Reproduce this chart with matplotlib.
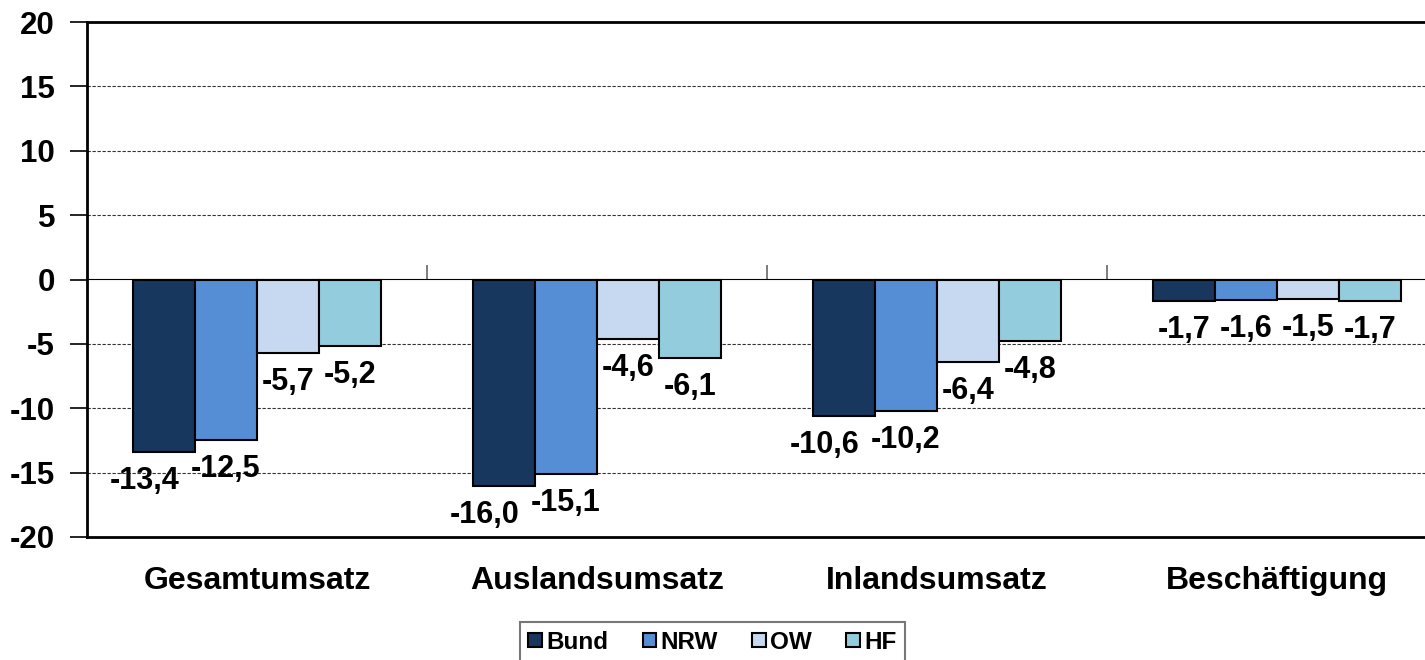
import matplotlib
matplotlib.use("Agg")
import matplotlib.pyplot as plt
import numpy as np

categories = ["Gesamtumsatz", "Auslandsumsatz", "Inlandsumsatz", "Beschäftigung"]
series = ["Bund", "NRW", "OW", "HF"]
bund = [-13.4, -16.0, -10.6, -1.7]
nrw = [-12.5, -15.1, -10.2, -1.6]
ow = [-5.7, -4.6, -6.4, -1.5]
hf = [-5.2, -6.1, -4.8, -1.7]
yticks = [20, 15, 10, 5, 0, -5, -10, -15, -20]

colors = ["#17375E", "#558ED5", "#C6D9F1", "#93CDDD"]
values = [bund, nrw, ow, hf]

plt.rcParams['font.family'] = ['Liberation Sans', 'DejaVu Sans']
plt.rcParams['font.weight'] = 'bold'

fig = plt.figure(figsize=(14.25, 6.6), dpi=100)
ax = fig.add_axes([87/1425, 1-537/660, 1360/1425, 515/660])

x = np.arange(len(categories))
w = 0.182
offsets = [-1.5*w, -0.5*w, 0.5*w, 1.5*w]

for i, (name, vals, c) in enumerate(zip(series, values, colors)):
    bars = ax.bar(x + offsets[i], vals, width=w, color=c, edgecolor='black',
                  linewidth=1.5, label=name, zorder=3)
    for j, (b, v) in enumerate(zip(bars, vals)):
        dx = -20 if (i == 0 and v < -5) else 0
        ax.annotate(f"{v:.1f}".replace('.', ','),
                    (b.get_x() + b.get_width()/2, v),
                    xytext=(dx, -29), textcoords='offset pixels',
                    ha='center', va='center', fontsize=22, fontweight='bold',
                    zorder=4)

ax.set_xlim(-0.5, len(categories) - 0.5)
ax.set_ylim(-20, 20)
ax.set_yticks(yticks)
ax.set_yticklabels([str(t) for t in yticks])
ax.tick_params(axis='y', direction='out', length=12, width=1.2, pad=11,
               labelsize=22.5, color='black')
ax.set_xticks(x)
ax.set_xticklabels(categories)
ax.tick_params(axis='x', length=0, pad=21, labelsize=23)
for lbl in ax.get_xticklabels() + ax.get_yticklabels():
    lbl.set_fontweight('bold')

for t in [15, 10, 5, -5, -10, -15]:
    ax.axhline(t, color='#333333', linestyle=(0, (3, 1.5)), linewidth=0.8, zorder=1)

for s in ['left', 'bottom', 'top']:
    ax.spines[s].set_linewidth(2)
    ax.spines[s].set_color('black')
ax.spines['right'].set_visible(False)

sec = ax.secondary_xaxis(0.5)
sec.set_xticks([0.5, 1.5, 2.5])
sec.set_xticklabels([])
sec.tick_params(direction='out', length=10, width=1.2, color='#666666')
sec.spines['bottom'].set_color('#666666')
sec.spines['bottom'].set_linewidth(1.2)

leg = ax.legend(loc='upper center', bbox_to_anchor=(0.5, 1-622/660),
                bbox_transform=fig.transFigure, ncol=4, frameon=True,
                fancybox=False, edgecolor='#555555', fontsize=17.5,
                handlelength=0.55, handleheight=0.55, handletextpad=0.2,
                columnspacing=1.4, borderpad=0.35, borderaxespad=0)
leg.get_frame().set_linewidth(1.5)
for t in leg.get_texts():
    t.set_fontweight('bold')

fig.savefig("out.png", dpi=100)
